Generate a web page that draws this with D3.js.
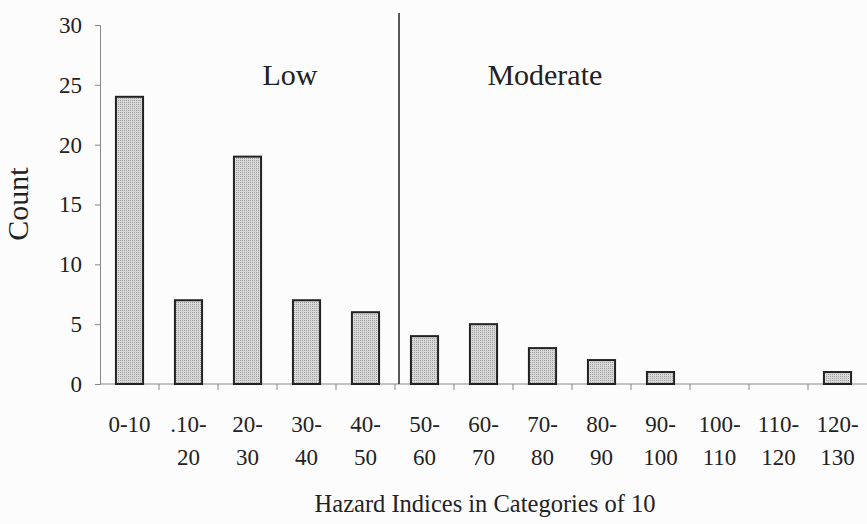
<!DOCTYPE html>
<html>
<head>
<style>
  body { margin: 0; background: #fcfcfc; }
  svg text { font-family: "Liberation Serif", "Times New Roman", serif; fill: #222; }
</style>
</head>
<body>
<div id="chart"></div>
<script src="https://d3js.org/d3.v7.min.js"></script>
<script>
// data
var categories = ["0-10", ".10-20", "20-30", "30-40", "40-50", "50-60", "60-70",
                  "70-80", "80-90", "90-100", "100-110", "110-120", "120-130"];
var counts = [24, 7, 19, 7, 6, 4, 5, 3, 2, 1, 0, 0, 1];
var labelTop = ["0-10", ".10-", "20-", "30-", "40-", "50-", "60-", "70-", "80-", "90-", "100-", "110-", "120-"];
var labelBottom = ["", "20", "30", "40", "50", "60", "70", "80", "90", "100", "110", "120", "130"];
var yTicks = [0, 5, 10, 15, 20, 25, 30];
var zones = [{name: "Low", at: 3.22}, {name: "Moderate", at: 7.54}];

var width = 867, height = 524;
var mLeft = 100, mRight = 867, mTop = 25, mBottom = 384;

var svg = d3.select("#chart").append("svg")
  .attr("width", width)
  .attr("height", height);

// stipple fill for the bars
var pat = svg.append("defs").append("pattern")
  .attr("id", "dots")
  .attr("width", 2).attr("height", 2)
  .attr("patternUnits", "userSpaceOnUse");
pat.append("rect").attr("width", 2).attr("height", 2).attr("fill", "#d8d8d8");
pat.append("rect").attr("width", 1).attr("height", 1).attr("fill", "#a0a0a0");

var x = d3.scaleBand()
  .domain(categories)
  .range([mLeft, mRight])
  .paddingInner(0.54)
  .paddingOuter(0.27);

var y = d3.scaleLinear()
  .domain([0, 30])
  .range([mBottom, mTop]);

// y axis
var yAxis = svg.append("g")
  .attr("transform", "translate(" + mLeft + ",0)")
  .call(d3.axisLeft(y).tickValues(yTicks).tickSize(5).tickPadding(13));
yAxis.select(".domain").attr("stroke", "#888");
yAxis.selectAll(".tick line").attr("stroke", "#888");
yAxis.selectAll("text")
  .style("font-size", "23px")
  .style("font-family", "Liberation Serif, serif")
  .attr("fill", "#222");

// x axis - ticks at band boundaries
var xs = d3.scaleLinear().domain([0, categories.length]).range([mLeft, mRight]);
var xAxis = svg.append("g")
  .attr("transform", "translate(0," + mBottom + ")");
xAxis.append("line")
  .attr("x1", mLeft).attr("x2", mRight)
  .attr("stroke", "#888");
xAxis.selectAll("line.tk")
  .data(d3.range(1, categories.length))
  .enter().append("line")
  .attr("class", "tk")
  .attr("x1", function(d) { return xs(d); })
  .attr("x2", function(d) { return xs(d); })
  .attr("y2", 6)
  .attr("stroke", "#888");

// bars
svg.selectAll("rect.bar")
  .data(counts)
  .enter().append("rect")
  .attr("class", "bar")
  .attr("x", function(d, i) { return x(categories[i]); })
  .attr("width", x.bandwidth())
  .attr("y", function(d) { return y(d); })
  .attr("height", function(d) { return mBottom - y(d); })
  .attr("fill", "url(#dots)")
  .attr("stroke", "#222")
  .attr("stroke-width", 2)
  .style("display", function(d) { return d > 0 ? null : "none"; });

// category labels on two lines
categories.forEach(function(c, i) {
  var cx = x(c) + x.bandwidth() / 2;
  svg.append("text")
    .attr("x", cx).attr("y", 432)
    .attr("text-anchor", "middle")
    .style("font-size", "23px")
    .text(labelTop[i]);
  if (labelBottom[i]) {
    svg.append("text")
      .attr("x", cx).attr("y", 465)
      .attr("text-anchor", "middle")
      .style("font-size", "23px")
      .text(labelBottom[i]);
  }
});

// divider between Low and Moderate
svg.append("line")
  .attr("x1", xs(5) + 4).attr("x2", xs(5) + 4)
  .attr("y1", 13).attr("y2", mBottom)
  .attr("stroke", "#222")
  .attr("stroke-width", 1.5);

svg.selectAll("text.zone")
  .data(zones)
  .enter().append("text")
  .attr("class", "zone")
  .attr("x", function(d) { return xs(d.at); })
  .attr("y", 85)
  .attr("text-anchor", "middle")
  .style("font-size", "30px")
  .text(function(d) { return d.name; });

// axis titles
svg.append("text")
  .attr("transform", "translate(28,204) rotate(-90)")
  .attr("text-anchor", "middle")
  .style("font-size", "30px")
  .text("Count");

svg.append("text")
  .attr("x", 485).attr("y", 512)
  .attr("text-anchor", "middle")
  .style("font-size", "24.5px")
  .text("Hazard Indices in Categories of 10");
</script>
</body>
</html>
